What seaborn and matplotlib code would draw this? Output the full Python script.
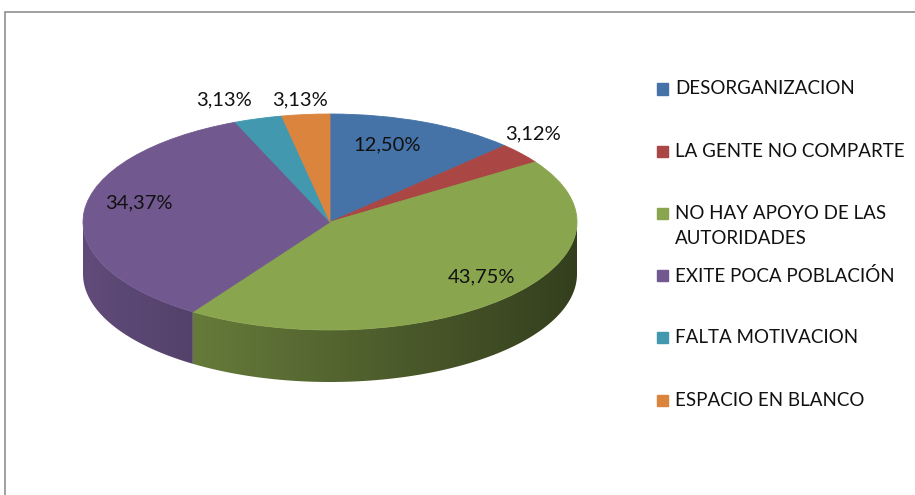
# %%
import numpy as np
import matplotlib
matplotlib.use("Agg")
from matplotlib import pyplot as plt
from matplotlib.colors import to_rgb
from matplotlib.patches import Polygon, Rectangle
import seaborn as sns

# %% Data
categories = ["DESORGANIZACION", "LA GENTE NO COMPARTE",
              "NO HAY APOYO DE LAS\nAUTORIDADES", "EXITE POCA POBLACIÓN",
              "FALTA MOTIVACION", "ESPACIO EN BLANCO"]
values = [12.50, 3.12, 43.75, 34.37, 3.13, 3.13]

# %% Style / layout (pixels)
colors = ["#4572A7", "#AA4643", "#89A54E", "#71588F", "#4198AF", "#DB843D"]
W, H, dpi = 915, 495, 100
cx, cy = 330, 222      # pie centre
rx, ry = 247, 108      # ellipse radii
depth = 52             # height of the side
label_px = [(387, 145), (533, 134), (482, 277), (139, 203), (224, 100), (300, 100)]
legend_x, legend_y0, legend_dy = 657, 89, 62.2

sns.set_theme(style="white")
plt.rcParams["font.family"] = ["Lato", "DejaVu Sans"]

fig = plt.figure(figsize=(W/dpi, H/dpi), dpi=dpi)
ax = fig.add_axes([0, 0, 2*cx/W, 1])

# top of the pie
wedges, _ = ax.pie(values, colors=colors, startangle=90, counterclock=False,
                   radius=1, wedgeprops=dict(linewidth=0.6, zorder=2))
for w in wedges:
    w.set_edgecolor(w.get_facecolor())

# side of the pie (front half only), shaded left -> right
D = depth/ry
bounds = np.concatenate([[0], np.cumsum(values)])/sum(values)*360
gx = np.linspace(-1, 1, 400)
shade = 0.85 - 0.47*(gx + 1)/2
for i in range(len(values)):
    a, b = max(bounds[i], 90), min(bounds[i+1], 270)
    if a >= b:
        continue
    t = np.radians(np.linspace(a, b, 120))
    xs, ys = np.sin(t), np.cos(t)
    poly = np.vstack([np.column_stack([xs, ys]),
                      np.column_stack([xs[::-1], ys[::-1] - D])])
    patch = Polygon(poly, closed=True, facecolor="none", edgecolor="none")
    ax.add_patch(patch)
    rgb = np.array(to_rgb(colors[i]))
    img = (shade[:, None]*rgb[None, :])[None, :, :]
    im = ax.imshow(img, extent=(-1, 1, -1 - D, 0), aspect="auto",
                   zorder=0.5, interpolation="bilinear")
    im.set_clip_path(patch)

ax.set_aspect("auto")
ax.set_xlim(-cx/rx, cx/rx)
ax.set_ylim(-(H - cy)/ry, cy/ry)
ax.axis("off")

# percentage labels
fmt = [f"{v:.2f}".replace(".", ",") + "%" for v in values]
for s, (px, py) in zip(fmt, label_px):
    ax.text((px - cx)/rx, (cy - py)/ry, s, ha="center", va="center",
            fontsize=14.5, color="#111111", zorder=5)

# legend
for i, (lab, col) in enumerate(zip(categories, colors)):
    y = legend_y0 + legend_dy*i
    fig.patches.append(Rectangle((legend_x/W, 1 - (y + 5.5)/H), 11/W, 11/H,
                                 transform=fig.transFigure, color=col))
    for j, line in enumerate(lab.split("\n")):
        fig.text((legend_x + 18)/W, 1 - (y + 25*j)/H, line, va="center",
                 fontsize=13.5, color="#111111")

# chart border (only top and left visible)
fig.patches.append(Rectangle((4.5/W, -0.1), 1.2, 1.1 - 11.5/H,
                             transform=fig.transFigure, fill=False,
                             edgecolor="#868686", linewidth=1.1))

fig.savefig("out.png", dpi=dpi)
